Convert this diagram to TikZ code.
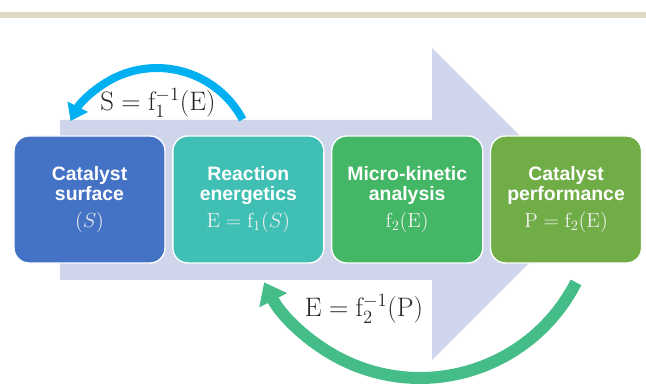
\RequirePackage{fix-cm}
\documentclass[tikz,border=0pt]{standalone}
\usepackage{fontspec}
\setsansfont{Liberation Sans}
\usetikzlibrary{positioning,arrows.meta}

\definecolor{bandgray}{HTML}{DDD9C3}
\definecolor{flowlav}{HTML}{CFD5EA}
\definecolor{surfblue}{HTML}{4472C4}
\definecolor{enteal}{HTML}{40BFB5}
\definecolor{kingreen}{HTML}{43B765}
\definecolor{perfgreen}{HTML}{70AD47}
\definecolor{skyblue}{HTML}{00B0F0}
\definecolor{loopgreen}{HTML}{45BD89}
\definecolor{mathgray}{HTML}{F0F0F0}

\tikzset{
  stage/.style={draw=white, line width=1pt, rounded corners=0.375cm,
    minimum width=3.775cm, minimum height=3.175cm, text width=3.4cm,
    align=center, text=white,
    font=\sffamily\bfseries\fontsize{13.8}{14.5}\selectfont},
  eqn/.style={font=\fontsize{19}{23}\selectfont, text=black!85}
}
\newcommand{\boxmath}[1]{{\rmfamily\mdseries\fontsize{14.5}{16}\selectfont\color{mathgray}\thickmuskip=5mu#1}}

\begin{document}
\begin{tikzpicture}[x=0.025cm, y=-0.025cm]
  \useasboundingbox (0,0) rectangle (646,385);

  % header band
  \fill[bandgray] (0,12) rectangle (646,18);

  % big background arrow
  \fill[flowlav] (60,120) -- (432,120) -- (432,48) -- (588,204)
    -- (432,360) -- (432,280) -- (60,280) -- cycle;

  % stages
  \node (surf) [stage, fill=surfblue] at (89.5,199.5)
    {Catalyst\\surface\\[5pt]\boxmath{$(S)$}};
  \node (ener) [stage, fill=enteal, right=0.16cm of surf]
    {Reaction\\energetics\\[5pt]\boxmath{$\mathrm{E}=\mathrm{f}_1(S)$}};
  \node (kin)  [stage, fill=kingreen, right=0.16cm of ener]
    {Micro-kinetic\\analysis\\[5pt]\boxmath{$\mathrm{f}_2(\mathrm{E})$}};
  \node (perf) [stage, fill=perfgreen, right=0.16cm of kin]
    {Catalyst\\performance\\[5pt]\boxmath{$\mathrm{P}=\mathrm{f}_2(\mathrm{E})$}};

  % inverse loops
  \coordinate (topStart) at (242.6,119.5);
  \coordinate (botStart) at (576,282.4);
  \draw[skyblue, line width=0.2cm, -{Triangle[length=0.4cm, width=0.55cm]}]
    (topStart) arc[start angle=-28, end angle=-153, radius=97];
  \draw[loopgreen, line width=0.3cm, -{Triangle[length=0.5cm, width=0.75cm]}]
    (botStart) arc[start angle=27, end angle=153, radius=175];

  \node (invOne) [eqn] at (158,103)
    {$\mathrm{S}=\mathrm{f}_1^{-1}(\mathrm{E})$};
  \node (invTwo) [eqn] at (364,309)
    {$\mathrm{E}=\mathrm{f}_2^{-1}(\mathrm{P})$};
\end{tikzpicture}
\end{document}
